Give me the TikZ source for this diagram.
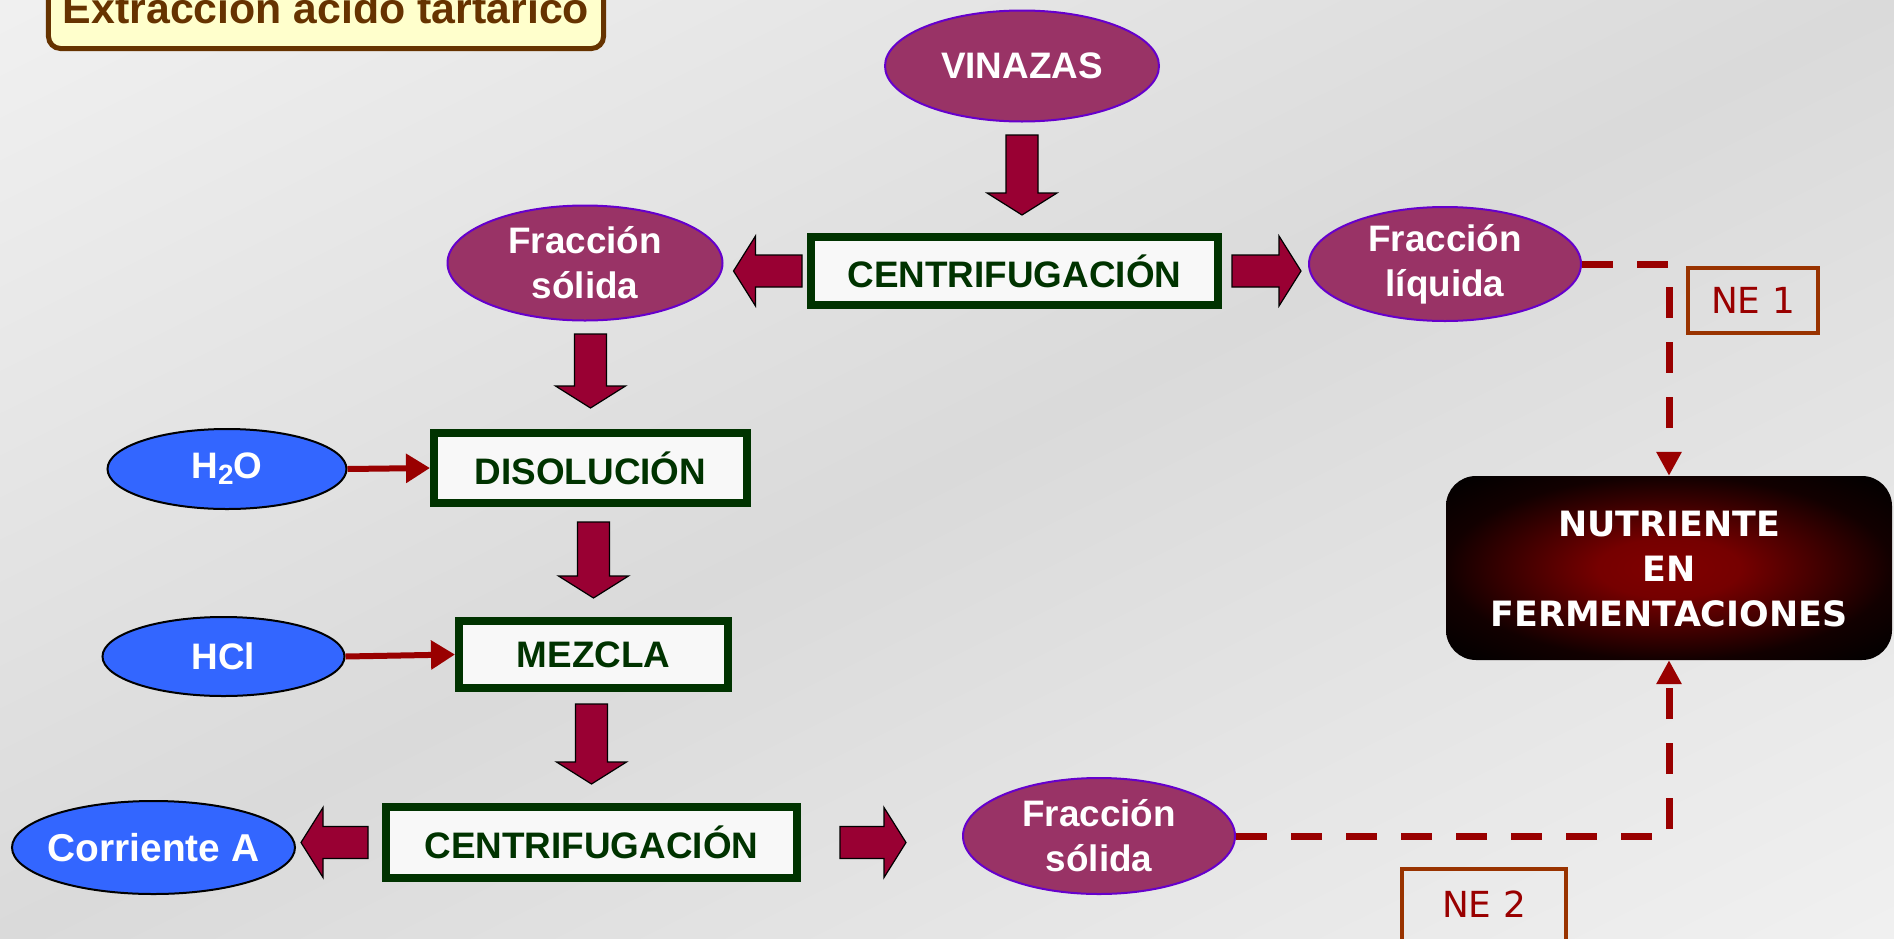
\documentclass[tikz,border=0pt]{standalone}
\usepackage{fontspec}
\setmainfont{Liberation Sans}
\newfontfamily\nefont{DejaVu Sans}
\newfontfamily\nutfont{DejaVu Sans}
\usetikzlibrary{shapes.geometric,arrows.meta,calc}
\definecolor{bgL}{HTML}{F7F7F7}
\definecolor{bgD}{HTML}{DADADA}
\definecolor{ellP}{HTML}{993366}
\definecolor{ellPB}{HTML}{6600CC}
\definecolor{ellB}{HTML}{3366FF}
\definecolor{boxG}{HTML}{003300}
\definecolor{boxF}{HTML}{F8F8F8}
\definecolor{arrF}{HTML}{990033}
\definecolor{lnR}{HTML}{990000}
\definecolor{neB}{HTML}{993300}
\definecolor{ttlB}{HTML}{663300}
\definecolor{ttlF}{HTML}{FFFFCC}
\definecolor{nutC}{HTML}{800000}
\pgfdeclareradialshading{nutshade}{\pgfpointorigin}{color(0bp)=(nutC); color(8bp)=(nutC!92!black); color(25bp)=(nutC!14!black); color(35bp)=(black); color(50bp)=(black)}
\newcommand\blockarr[4]{%
  \coordinate (ba-s) at ($(#1)!#3!(#2)$);
  \coordinate (ba-e) at ($(#2)!#4!(#1)$);
  \coordinate (ba-h) at ($(ba-e)!22bp!(ba-s)$);
  \filldraw[blockarrow] ($(ba-s)!16bp!90:(ba-e)$) -- ($(ba-h)!16bp!90:(ba-e)$) -- ($(ba-h)!35bp!90:(ba-e)$) -- (ba-e) -- ($(ba-h)!35bp!-90:(ba-e)$) -- ($(ba-h)!16bp!-90:(ba-e)$) -- ($(ba-s)!16bp!-90:(ba-e)$) -- cycle;}
\tikzset{
 pell/.style={ellipse, fill=ellP, draw=ellPB, line width=2bp, inner sep=0pt},
 bell/.style={ellipse, fill=ellB, draw=black, line width=2bp, inner sep=0pt},
 ellt/.style={text=white, align=center, font=\fontsize{37}{45}\selectfont\bfseries, inner sep=0pt},
 procbox/.style={rectangle, fill=boxF, draw=boxG, line width=8bp, inner sep=0pt, text=boxG, font=\fontsize{37}{45}\selectfont\bfseries},
 blockarrow/.style={fill=arrF, draw=black, line width=1.2bp, line join=miter},
 thinarr/.style={draw=lnR, line width=6bp, -{Triangle[length=24bp,width=28bp]}},
 dasharr/.style={draw=lnR, line width=7bp, dash pattern=on 31bp off 24bp, -{Triangle[length=24bp,width=24bp]}},
 nebox/.style={rectangle, draw=neB, line width=4bp, inner sep=0pt},
 netext/.style={text=lnR, font=\nefont\fontsize{36}{36}\selectfont, inner sep=0pt},
}
\begin{document}
\begin{tikzpicture}[x=1bp,y=-1bp]
\useasboundingbox (0,0) rectangle (1894,939);
\begin{scope}
\clip (0,0) rectangle (1894,939);
\shade[left color=bgL, right color=bgL, middle color=bgD, shading angle=26.4] (-153,-630.5) rectangle (2047,1569.5);
\end{scope}
% title
\node[rectangle, rounded corners=12bp, fill=ttlF, draw=ttlB, line width=5bp, minimum width=555bp, minimum height=97bp, inner sep=0pt] (title) at (326,0) {};
\node[anchor=base, text=ttlB, font=\fontsize{43}{43}\selectfont\bfseries, inner sep=0pt] (titletext) at (326,23) {Extracción ácido tartárico};
% ellipses
\node[pell, minimum width=274bp, minimum height=111bp] (vin) at (1022,66) {};
\node[ellt] (vint) at (vin) {VINAZAS};
\node[pell, minimum width=275bp, minimum height=115bp] (fs1) at (585,263) {};
\node[ellt] (fs1t) at (fs1) {Fracción\\sólida};
\node[pell, minimum width=272bp, minimum height=114bp] (fl) at (1445,264) {};
\node[ellt] (flt) at (fl) {Fracción\\líquida};
\node[pell, minimum width=272bp, minimum height=116bp] (fs2) at (1099,836) {};
\node[ellt] (fs2t) at (fs2) {Fracción\\sólida};
\node[bell, minimum width=239bp, minimum height=80bp] (h2o) at (227,469) {};
\node[ellt] (h2ot) at (h2o) {H\raisebox{-0.3ex}{\fontsize{28}{28}\selectfont 2}O};
\node[bell, minimum width=242bp, minimum height=79bp] (hcl) at (223.5,656.5) {};
\node[ellt] (hclt) at (hcl) {HCl};
\node[bell, minimum width=283bp, minimum height=93bp] (ca) at (153.5,847.5) {};
\node[ellt, font=\fontsize{39}{45}\selectfont\bfseries] (cat) at (ca) {Corriente A};
% process boxes
\node[procbox, minimum width=407bp, minimum height=68bp] (c1) at (1014.5,271) {CENTRIFUGACIÓN};
\node[procbox, minimum width=313bp, minimum height=70bp] (dis) at (590.5,468) {DISOLUCIÓN};
\node[procbox, minimum width=269bp, minimum height=67bp] (mez) at (593.5,654.5) {MEZCLA};
\node[procbox, minimum width=411bp, minimum height=71bp] (c2) at (591.5,842.5) {CENTRIFUGACIÓN};
% nutriente
\node[rectangle, rounded corners=30bp, shade, shading=nutshade, minimum width=446bp, minimum height=184bp, inner sep=0pt] (nut) at (1669,568) {};
\node[text=white, align=center, font=\nutfont\bfseries\fontsize{35}{45.5}\selectfont, inner sep=0pt] (nutt) at (1669,569) {NUTRIENTE\hspace{18bp}\\EN\\FERMENTACIONES};
% NE boxes
\node[nebox, minimum width=130bp, minimum height=65bp] (ne1) at (1753,300.5) {};
\node[netext] (ne1t) at (ne1) {NE 1};
\node[nebox, minimum width=164bp, minimum height=76bp] (ne2) at (1484,907) {};
\node[netext] (ne2t) at (1484,904) {NE 2};
% dashed connectors
\draw[dasharr] (fl.east) -| (nut.north);
\draw[dasharr] (fs2.east) -| (nut.south);
% thin arrows
\draw[thinarr] (h2o.east) -- (dis.west);
\draw[thinarr] (hcl.east) -- (mez.west);
% block arrows
\blockarr{vin.south}{vin.south |- c1.north}{12.5bp}{18bp}
\blockarr{c1.west}{fs1.east |- c1.west}{5bp}{10bp}
\blockarr{c1.east}{fl.west |- c1.east}{10bp}{7bp}
\blockarr{dis.north |- fs1.south}{dis.north}{12.5bp}{21bp}
\blockarr{mez.north |- dis.south}{mez.north}{15bp}{19bp}
\blockarr{c2.north |- mez.south}{c2.north}{12bp}{19bp}
\blockarr{c2.west}{ca.east |- c2.west}{14bp}{5bp}
\blockarr{c2.east}{fs2.west |- c2.east}{39bp}{56bp}
\end{tikzpicture}
\end{document}
